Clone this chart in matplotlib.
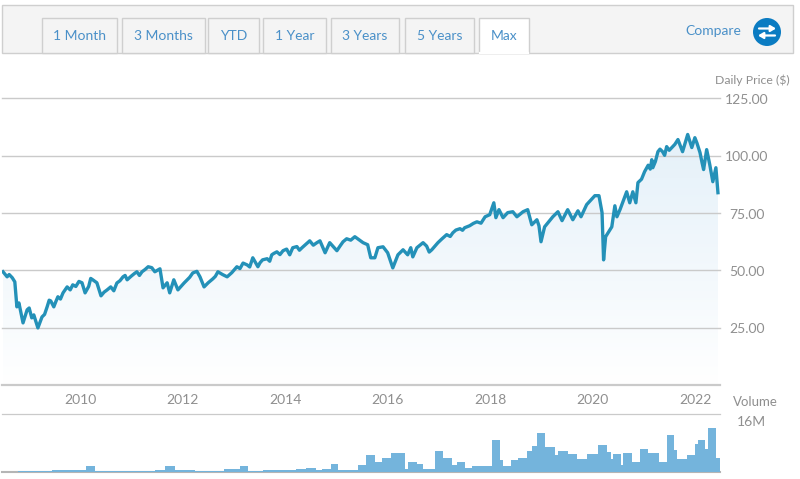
import numpy as np
from matplotlib import pyplot as plt
from matplotlib.patches import Rectangle, Circle, Polygon

plt.rcParams['font.family'] = ['Lato', 'DejaVu Sans']

# daily price, thinned to the turning points
price_years = [2008.50, 2008.58, 2008.73, 2008.77, 2008.81, 2008.89, 2008.97, 2009.01, 2009.06, 2009.10,
               2009.18, 2009.26, 2009.36, 2009.43, 2009.49, 2009.57, 2009.67, 2009.75, 2009.81, 2009.86,
               2010.04, 2010.10, 2010.25, 2010.33, 2010.41, 2010.53, 2010.60, 2010.66, 2010.84, 2010.92,
               2011.11, 2011.21, 2011.33, 2011.46, 2011.56, 2011.62, 2011.70, 2011.75, 2011.83, 2011.91,
               2012.09, 2012.20, 2012.34, 2012.42, 2012.59, 2012.69, 2012.87, 2013.06, 2013.26, 2013.37,
               2013.47, 2013.51, 2013.65, 2013.74, 2013.84, 2013.96, 2014.09, 2014.15, 2014.33, 2014.48,
               2014.62, 2014.68, 2014.78, 2014.87, 2015.01, 2015.13, 2015.36, 2015.52, 2015.61, 2015.67,
               2015.75, 2015.81, 2015.91, 2016.00, 2016.10, 2016.20, 2016.30, 2016.39, 2016.45, 2016.49,
               2016.57, 2016.69, 2016.86, 2016.98, 2017.15, 2017.27, 2017.41, 2017.50, 2017.60, 2017.74,
               2017.99, 2018.07, 2018.11, 2018.17, 2018.25, 2018.34, 2018.44, 2018.52, 2018.64, 2018.73,
               2018.81, 2018.91, 2018.95, 2018.99, 2019.06, 2019.22, 2019.32, 2019.40, 2019.51, 2019.61,
               2019.71, 2019.77, 2019.88, 2020.04, 2020.12, 2020.18, 2020.21, 2020.25, 2020.37, 2020.43,
               2020.47, 2020.53, 2020.66, 2020.72, 2020.78, 2020.84, 2020.88, 2021.01, 2021.15, 2021.17,
               2021.27, 2021.36, 2021.44, 2021.54, 2021.66, 2021.75, 2021.85, 2021.93, 2021.99, 2022.09,
               2022.16, 2022.22, 2022.34, 2022.40, 2022.44]
price_values = [49.4, 47.2, 45.0, 34.1, 35.8, 27.1, 32.8, 33.6, 29.3, 30.6,
                24.9, 29.7, 34.1, 36.7, 34.1, 38.5, 40.2, 42.8, 41.5, 43.7,
                44.6, 40.2, 45.9, 44.6, 38.9, 41.5, 42.8, 41.1, 47.2, 45.9,
                49.4, 49.4, 51.6, 49.4, 50.7, 42.4, 44.6, 40.2, 45.9, 41.5,
                45.9, 48.9, 47.2, 42.8, 46.3, 49.4, 47.2, 51.6, 52.4, 55.5,
                51.6, 53.3, 55.1, 56.8, 58.1, 58.6, 56.8, 59.9, 59.9, 62.9,
                62.1, 62.9, 57.7, 62.1, 58.6, 62.5, 64.7, 62.1, 61.2, 55.5,
                55.5, 59.9, 60.3, 57.7, 51.1, 56.8, 59.0, 56.8, 59.9, 55.9,
                59.9, 62.1, 59.0, 62.1, 65.6, 66.4, 68.2, 68.6, 69.5, 71.2,
                74.3, 79.5, 73.0, 76.5, 73.0, 75.2, 75.6, 73.4, 75.6, 76.5,
                69.9, 72.1, 69.5, 62.5, 69.0, 73.4, 75.6, 71.7, 76.5, 72.1,
                76.0, 73.4, 78.7, 82.6, 82.6, 75.2, 54.6, 64.7, 69.0, 78.2,
                73.4, 76.5, 84.3, 79.5, 84.3, 79.5, 88.3, 93.1, 98.3, 94.8,
                101.8, 101.8, 104.0, 103.6, 107.1, 101.8, 109.3, 103.6, 107.9, 101.4,
                94.0, 102.7, 88.7, 94.8, 83.9]

# smaller wiggles along the steadier stretches
wiggle_years = [2008.62, 2008.68, 2009.31, 2009.40, 2009.53, 2009.62, 2009.92, 2009.98, 2010.17, 2010.21,
                2010.47, 2010.72, 2010.78, 2010.88, 2011.00, 2011.06, 2011.16, 2011.27, 2011.40, 2012.03,
                2012.14, 2012.28, 2012.50, 2012.64, 2012.78, 2012.96, 2013.12, 2013.18, 2013.31, 2013.56,
                2013.70, 2013.78, 2013.90, 2014.03, 2014.23, 2014.28, 2014.40, 2014.55, 2015.07, 2015.20,
                2015.28, 2015.44, 2016.76, 2016.81, 2017.06, 2017.22, 2017.33, 2017.46, 2017.67, 2017.82,
                2017.90, 2020.95, 2021.08, 2021.12, 2021.22, 2021.31, 2021.40, 2021.49, 2021.60, 2022.03,
                2022.13, 2022.28]
wiggle_values = [48.2, 46.8, 30.8, 37.0, 36.4, 37.5, 43.0, 45.2, 43.0, 46.5,
                 40.5, 44.5, 45.5, 47.8, 47.5, 48.6, 47.8, 50.4, 51.2, 44.5,
                 47.0, 49.6, 44.6, 47.4, 48.2, 49.0, 50.8, 53.2, 51.5, 54.6,
                 54.0, 57.4, 56.9, 59.3, 60.4, 58.8, 61.3, 61.0, 60.6, 63.8,
                 63.2, 63.4, 60.6, 58.0, 63.8, 64.8, 67.6, 67.5, 70.5, 70.6,
                 73.4, 89.8, 95.9, 94.2, 97.5, 102.9, 100.2, 102.4, 105.0, 105.6,
                 97.0, 96.2]

# volume in millions, one value per step between neighbouring edges
volume_edges = [2008.48, 2008.79, 2009.45, 2010.12, 2010.29, 2011.46, 2011.66, 2011.85, 2012.09, 2012.24,
                2012.81, 2013.12, 2013.27, 2013.57, 2014.21, 2014.41, 2014.60, 2014.72, 2014.89, 2015.03,
                2015.42, 2015.58, 2015.75, 2015.89, 2016.06, 2016.34, 2016.39, 2016.57, 2016.69, 2016.88,
                2016.92, 2017.08, 2017.25, 2017.35, 2017.50, 2017.64, 2018.03, 2018.19, 2018.25, 2018.40,
                2018.54, 2018.71, 2018.81, 2018.91, 2019.06, 2019.26, 2019.32, 2019.51, 2019.69, 2019.88,
                2020.10, 2020.27, 2020.35, 2020.39, 2020.55, 2020.58, 2020.76, 2020.92, 2021.07, 2021.29,
                2021.44, 2021.58, 2021.64, 2021.83, 2021.99, 2022.05, 2022.18, 2022.24, 2022.40, 2022.48]
volume_values = [0.1, 0.3, 0.7, 1.8, 0.3, 0.7, 1.8, 0.5, 0.7, 0.3,
                 1.1, 1.8, 0.3, 0.6, 1.0, 1.4, 0.7, 1.1, 2.5, 0.7,
                 2.1, 5.3, 3.2, 4.5, 6.2, 1.1, 3.2, 2.5, 1.1, 0.9,
                 6.6, 4.6, 2.1, 3.2, 1.4, 2.0, 10.1, 3.7, 1.8, 4.0,
                 4.6, 6.6, 8.2, 12.6, 8.0, 5.3, 6.8, 5.7, 4.2, 5.8,
                 8.7, 6.4, 4.1, 5.7, 2.1, 6.2, 3.2, 7.5, 6.1, 3.2,
                 12.0, 7.0, 4.2, 5.3, 9.0, 10.1, 7.4, 14.1, 4.6]

price_ticks = [25, 50, 75, 100, 125]
year_ticks = [2010, 2012, 2014, 2016, 2018, 2020, 2022]
tab_labels = ['1 Month', '3 Months', 'YTD', '1 Year', '3 Years', '5 Years', 'Max']
tab_lefts = [42, 122, 208, 263, 331, 405, 479]
tab_rights = [117, 205, 259, 326, 399, 474, 529]

LINE = '#2491b8'
GRID = '#cacaca'
TEXT = '#8f8f8f'
BLUE = '#4a90c8'
W, H = 800, 479

fig = plt.figure(figsize=(W / 100, H / 100), dpi=100, facecolor='white')

# merge both price lists by date
years = np.array(price_years + wiggle_years)
values = np.array(price_values + wiggle_values)
order = np.argsort(years)
years, values = years[order], values[order]

# price panel
ax = fig.add_axes([2 / W, 1 - 385 / H, 718 / W, 286.5 / H])
ax.axis('off')

grad = np.linspace(0, 1, 256).reshape(-1, 1)
top = np.array([0.89, 0.94, 0.975])
img = top + (1 - top) * grad[..., None]
im = ax.imshow(img, extent=[2008.48, 2022.48, 0, 115], origin='upper', aspect='auto', zorder=1)
im.set_clip_path(Polygon(list(zip(years, values)) + [(years[-1], 0), (years[0], 0)],
                         closed=True, transform=ax.transData))
ax.set_xlim(2008.48, 2022.48)
ax.set_ylim(0, 125)

for p in price_ticks:
    ax.plot([2008.48, 2022.48], [p, p], color=GRID, lw=1.0, zorder=2, clip_on=False)
ax.plot([2008.48, 2022.48], [0, 0], color=GRID, lw=1.6, zorder=2, clip_on=False)
ax.plot(years, values, color=LINE, lw=2.4, solid_joinstyle='round', zorder=3)

for p in price_ticks:
    ax.annotate('%.2f' % p, (2022.48, p), xytext=(27, -1.5), textcoords='offset pixels', ha='center',
                va='center', color=TEXT, fontsize=10)
for yr in year_ticks:
    ax.annotate(str(yr), (yr, 0), xytext=(0, -15), textcoords='offset pixels', ha='center',
                va='center', color=TEXT, fontsize=10)

# volume panel
vax = fig.add_axes([2 / W, 1 - 472 / H, 718 / W, 58 / H])
vax.set_xlim(2008.48, 2022.48)
vax.set_ylim(0, 18.56)
vax.axis('off')
vax.stairs(volume_values, volume_edges, fill=True, color='#74b4dc', zorder=2)
vax.plot([2008.48, 2022.48], [18.56, 18.56], color=GRID, lw=0.9, clip_on=False)
vax.plot([2008.48, 2022.48], [0, 0], color='#b5b5b5', lw=1.5, clip_on=False, zorder=1)

# tab strip and labels placed in pixels
ui = fig.add_axes([0, 0, 1, 1], zorder=5)
ui.set_xlim(0, W)
ui.set_ylim(H, 0)
ui.axis('off')
ui.patch.set_alpha(0)

ui.add_patch(Rectangle((2, 5), 791, 48, fc='#f4f4f4', ec='#cfcfcf', lw=1))
for label, l, r in zip(tab_labels, tab_lefts, tab_rights):
    active = label == 'Max'
    ui.add_patch(Rectangle((l, 18), r - l, 35, fc='white' if active else '#f4f4f4', ec='#cfcfcf', lw=1))
    if active:
        ui.plot([l + 0.7, r - 0.7], [53, 53], color='white', lw=1.6)
    ui.text((l + r) / 2, 35.5, label, ha='center', va='center', color=BLUE, fontsize=10)

ui.text(713.5, 31, 'Compare', ha='center', va='center', color=BLUE, fontsize=10)
ui.add_patch(Circle((767, 32), 14, fc='#0b7cc2', ec='none'))
ui.annotate('', xy=(776, 28.5), xytext=(759, 28.5),
            arrowprops=dict(arrowstyle='-|>,head_width=0.18,head_length=0.3', color='white', lw=1.6,
                            shrinkA=0, shrinkB=0))
ui.annotate('', xy=(758, 35.5), xytext=(775, 35.5),
            arrowprops=dict(arrowstyle='-|>,head_width=0.18,head_length=0.3', color='white', lw=1.6,
                            shrinkA=0, shrinkB=0))

ui.text(790, 80.5, 'Daily Price ($)', ha='right', va='center', color=TEXT, fontsize=8.8)
ui.text(755, 402, 'Volume', ha='center', va='center', color=TEXT, fontsize=9.5)
ui.text(751, 422, '16M', ha='center', va='center', color=TEXT, fontsize=10)

fig.savefig('out.png', dpi=100, facecolor='white')
